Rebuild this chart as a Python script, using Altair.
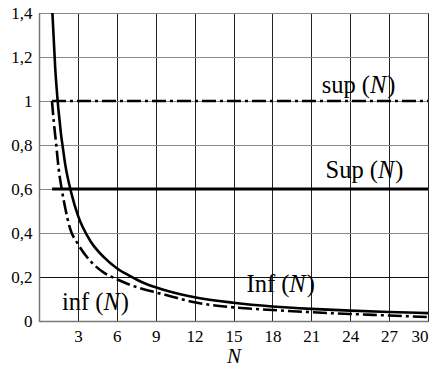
import altair as alt
import pandas as pd

# Inf(N): solid curve
Inf_N = [1, 1.25, 1.5, 2, 2.5, 3, 4, 5, 6, 7, 8, 9, 10, 12, 15, 18, 21, 24, 27, 30]
Inf_vals = [1.44, 1.15, 0.96, 0.72, 0.58, 0.48, 0.36, 0.29, 0.24, 0.205, 0.175, 0.153,
            0.135, 0.108, 0.083, 0.066, 0.055, 0.047, 0.041, 0.036]
# inf(N): dash-dot curve
inf_N = [1, 1.15, 1.33, 1.5, 1.75, 2, 2.4, 3, 4, 5, 6, 7, 8, 9, 10, 12, 15, 18, 21, 24, 27, 30]
inf_vals = [1.0, 0.9, 0.8, 0.7, 0.6, 0.52, 0.42, 0.35, 0.27, 0.22, 0.19, 0.165, 0.145,
            0.13, 0.115, 0.085, 0.062, 0.05, 0.04, 0.032, 0.025, 0.018]
# constant bounds
const_N = [1, 30]
sup_val = 1.0
Sup_val = 0.6

x_ticks = [3, 6, 9, 12, 15, 18, 21, 24, 27, 30]
y_ticks = [0, 0.2, 0.4, 0.6, 0.8, 1.0, 1.2, 1.4]

# labels: prefix, italic N, ")", N position, value position
label_prefix = ["sup (", "Sup (", "Inf (", "inf ("]
label_N = [21.8, 22.1, 16.0, 1.77]
label_val = [1.036, 0.65, 0.131, 0.05]

FONT = "Liberation Serif"
FS = 24.5
widths = {"s": .389, "u": .5, "p": .5, " ": .25, "(": .333, ")": .333, "S": .556,
          "I": .333, "n": .5, "f": .333, "i": .278}


def w(t):
    return sum(widths.get(c, .5) for c in t) * FS


xs = alt.Scale(domain=[0, 30], nice=False, zero=False)
ys = alt.Scale(domain=[0, 1.4], nice=False)

df_Inf = pd.DataFrame({"N": Inf_N, "v": Inf_vals})
df_inf = pd.DataFrame({"N": inf_N, "v": inf_vals})
df_sup = pd.DataFrame({"N": const_N, "v": [sup_val] * 2})
df_Sup = pd.DataFrame({"N": const_N, "v": [Sup_val] * 2})

xaxis = alt.Axis(
    values=x_ticks, grid=True, gridColor="#222", gridWidth=1, domainColor="#777",
    domainWidth=1.5, ticks=False, labelFont=FONT, labelFontSize=17, labelColor="black",
    labelPadding=7, title="N", titleFont=FONT, titleFontSize=21, titleFontStyle="italic",
    titleFontWeight="normal", titleColor="black", titlePadding=1)
yaxis = alt.Axis(
    values=y_ticks, grid=True,
    gridColor={"condition": {"test": "abs(datum.value-0.2)<0.01", "value": "#111"}, "value": "#888"},
    gridWidth=1, domainColor="#777", domainWidth=1.5, ticks=False, labelFont=FONT,
    labelFontSize=17, labelColor="black", labelPadding=7, title="",
    labelExpr="replace(format(datum.value, '.1~f'), '.', ',')")
xenc = alt.X("N:Q", scale=xs, axis=xaxis)
yenc = alt.Y("v:Q", scale=ys, axis=yaxis)

dash = [14, 4, 3, 4]
base_Inf = alt.Chart(df_Inf).mark_line(color="black", strokeWidth=2.6, clip=True,
                                       interpolate="monotone").encode(x=xenc, y=yenc)
base_inf = alt.Chart(df_inf).mark_line(color="black", strokeWidth=2.6, clip=True,
                                       strokeDash=dash, interpolate="monotone").encode(x=xenc, y=yenc)
line_sup = alt.Chart(df_sup).mark_line(color="black", strokeWidth=2.6,
                                       strokeDash=dash).encode(x=xenc, y=yenc)
line_Sup = alt.Chart(df_Sup).mark_line(color="black", strokeWidth=3).encode(x=xenc, y=yenc)

rows = []
for p, n, v in zip(label_prefix, label_N, label_val):
    rows.append({"t": p, "N": n, "v": v, "dx": 0, "it": "normal"})
    rows.append({"t": "N", "N": n, "v": v, "dx": w(p), "it": "italic"})
    rows.append({"t": ")", "N": n, "v": v, "dx": w(p) + 0.667 * FS + 1, "it": "normal"})
df_lab = pd.DataFrame(rows)

texts = []
for it in ["normal", "italic"]:
    sub = df_lab[df_lab["it"] == it]
    for dxv in sorted(sub["dx"].unique()):
        s = sub[sub["dx"] == dxv]
        texts.append(alt.Chart(s).mark_text(
            font=FONT, fontSize=FS, fontStyle=it, align="left", baseline="alphabetic",
            color="black", dx=float(dxv)).encode(x=xenc, y=yenc, text="t:N"))

chart = alt.layer(base_Inf, base_inf, line_sup, line_Sup, *texts).properties(
    width=389, height=308,
    padding={"left": 39, "top": 13, "right": 10, "bottom": 47},
    autosize=alt.AutoSizeParams(type="none"),
    background="white",
).configure_view(stroke="#333", strokeWidth=1).configure_axis(
    labelFont=FONT, titleFont=FONT, labelFontSize=17, labelColor="black"
)

chart.save("out.html", embed_options={"renderer": "svg", "actions": False})
